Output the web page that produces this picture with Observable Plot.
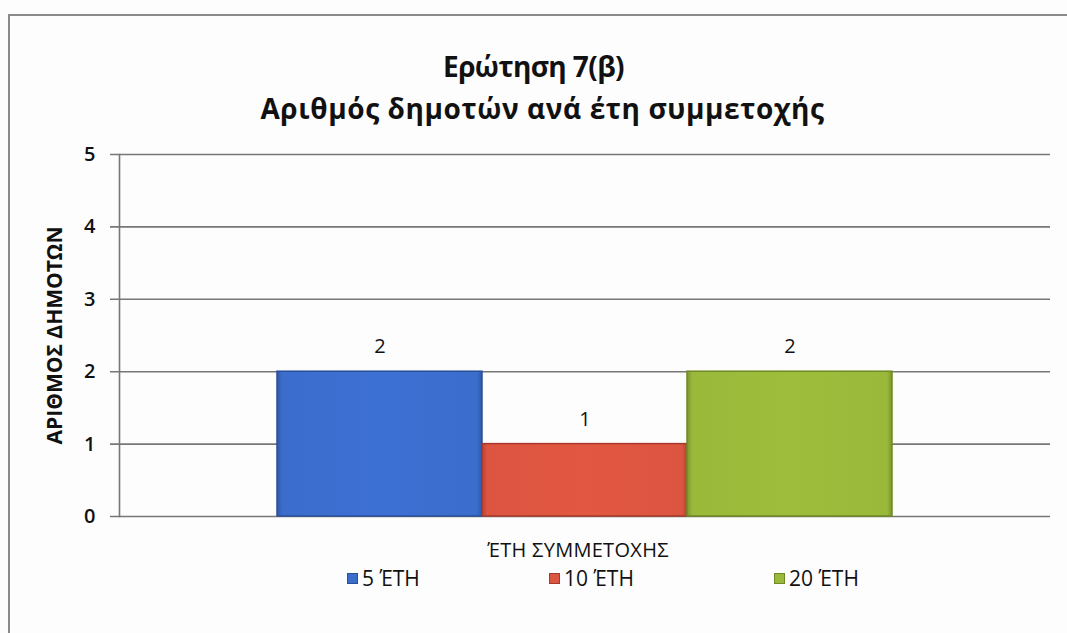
<!DOCTYPE html>
<html>
<head>
<meta charset="utf-8">
<script src="https://cdn.jsdelivr.net/npm/d3@7"></script>
<script src="https://cdn.jsdelivr.net/npm/@observablehq/plot@0.6"></script>
<style>
  html, body { margin: 0; padding: 0; background: #fff; }
  #wrap { position: relative; width: 1067px; height: 633px; overflow: hidden; background: #fdfdfd;
          font-family: "Open Sans", "Noto Sans", sans-serif; color: #111; }
  #frameTop { position: absolute; left: 8px; top: 14px; width: 1059px; height: 0; border-top: 2px solid #8a8a8a; }
  #frameLeft { position: absolute; left: 8px; top: 14px; width: 0; height: 619px; border-left: 2px solid #8a8a8a; }
  #title { position: absolute; left: 4px; top: 45px; width: 1067px; text-align: center; font-weight: bold;
           font-size: 28px; line-height: 42px; }
  #title .l1 { letter-spacing: -0.6px; margin-left: -8px; }
  #title .l2 { letter-spacing: 0.6px; margin-left: 10px; }
  #chart { position: absolute; left: 0; top: 140px; }
  #xtitle { position: absolute; left: 0; width: 1156px; top: 536px; text-align: center; font-size: 20px; letter-spacing: 0.3px; }
  #legend { position: absolute; top: 565px; left: 0; width: 1067px; height: 26px; font-size: 21px; }
  .item { position: absolute; top: 0; display: flex; align-items: center; height: 26px; }
  .sw { width: 11px; height: 11px; margin-right: 4px; box-sizing: border-box; }
  g[aria-label="y-axis label"] text { font-weight: bold; font-size: 21px; }
  g[aria-label="y-axis tick label"] text { font-weight: 600; }
</style>
</head>
<body>
<div id="wrap">
  <div id="frameTop"></div>
  <div id="frameLeft"></div>
  <div id="title"><span class="l1">Ερώτηση 7(β)</span><br><span class="l2">Αριθμός δημοτών ανά έτη συμμετοχής</span></div>
  <div id="chart"></div>
  <div id="xtitle"></div>
  <div id="legend"></div>
</div>
<script>
// ---- data ----
const series = ["5 ΈΤΗ", "10 ΈΤΗ", "20 ΈΤΗ"];
const values = [2, 1, 2];
const colors = ["#3b6dcd", "#dc5540", "#9ab83a"];
const strokes = ["#2a4f9a", "#a8392a", "#6f8a22"];
const yTicks = [0, 1, 2, 3, 4, 5];
const yLabel = "ΑΡΙΘΜΟΣ ΔΗΜΟΤΩΝ";
const xTitle = "ΈΤΗ ΣΥΜΜΕΤΟΧΗΣ";
const legendLeft = [347, 549, 774];

const data = series.map((s, i) => ({series: s, value: values[i]}));
const gradIds = series.map((s, i) => "barGrad" + i);

const chart = Plot.plot({
  width: 1067,
  height: 400,
  marginLeft: 119,
  marginRight: 17,
  marginTop: 14,
  marginBottom: 24,
  style: {fontFamily: "'Open Sans', 'Noto Sans', sans-serif", fontSize: "20px", color: "#111", background: "transparent", overflow: "visible"},
  x: {type: "band", domain: series, paddingInner: 0, paddingOuter: 0.765, axis: null},
  y: {domain: [0, 5], ticks: yTicks, label: null},
  color: {type: "ordinal", domain: series, range: gradIds.map(id => `url(#${id})`)},
  marks: [
    Plot.gridY(yTicks, {stroke: "#777", strokeOpacity: 1, strokeWidth: 1.6, insetLeft: -9}),
    Plot.axisY(yTicks, {tickSize: 0, tickPadding: 24, tickFormat: d3.format("d"), fontSize: 20, fill: "#111",
      label: yLabel, labelAnchor: "center", labelArrow: "none", labelOffset: 72}),
    Plot.frame({anchor: "left", stroke: "#777", strokeWidth: 1.6}),
    Plot.barY(data, {x: "series", y: "value", fill: "series",
      stroke: (d, i) => strokes[i], strokeWidth: 1.5}),
    Plot.text(data, {x: "series", y: "value", text: d => String(d.value), dy: -25,
      fontSize: 20, fill: "#111", fontWeight: 500})
  ]
});

// subtle bevel-like gradients for the bars
const svgNS = "http://www.w3.org/2000/svg";
const defs = document.createElementNS(svgNS, "defs");
colors.forEach((c, i) => {
  const base = d3.color(c);
  const dark = base.darker(0.6).formatHex();
  const light = base.brighter(0.08).formatHex();
  const g = document.createElementNS(svgNS, "linearGradient");
  g.setAttribute("id", gradIds[i]);
  g.setAttribute("x1", "0"); g.setAttribute("y1", "0");
  g.setAttribute("x2", "1"); g.setAttribute("y2", "0");
  [[0, dark], [0.025, c], [0.5, light], [0.975, c], [1, dark]].forEach(([o, col]) => {
    const s = document.createElementNS(svgNS, "stop");
    s.setAttribute("offset", o);
    s.setAttribute("stop-color", col);
    g.appendChild(s);
  });
  defs.appendChild(g);
});
chart.insertBefore(defs, chart.firstChild);
document.getElementById("chart").appendChild(chart);

document.getElementById("xtitle").textContent = xTitle;
const leg = document.getElementById("legend");
series.forEach((s, i) => {
  const it = document.createElement("div");
  it.className = "item";
  it.style.left = legendLeft[i] + "px";
  const sw = document.createElement("div");
  sw.className = "sw";
  sw.style.background = colors[i];
  sw.style.border = "1px solid " + strokes[i];
  const t = document.createElement("span");
  t.textContent = s;
  it.appendChild(sw); it.appendChild(t);
  leg.appendChild(it);
});
</script>
</body>
</html>
